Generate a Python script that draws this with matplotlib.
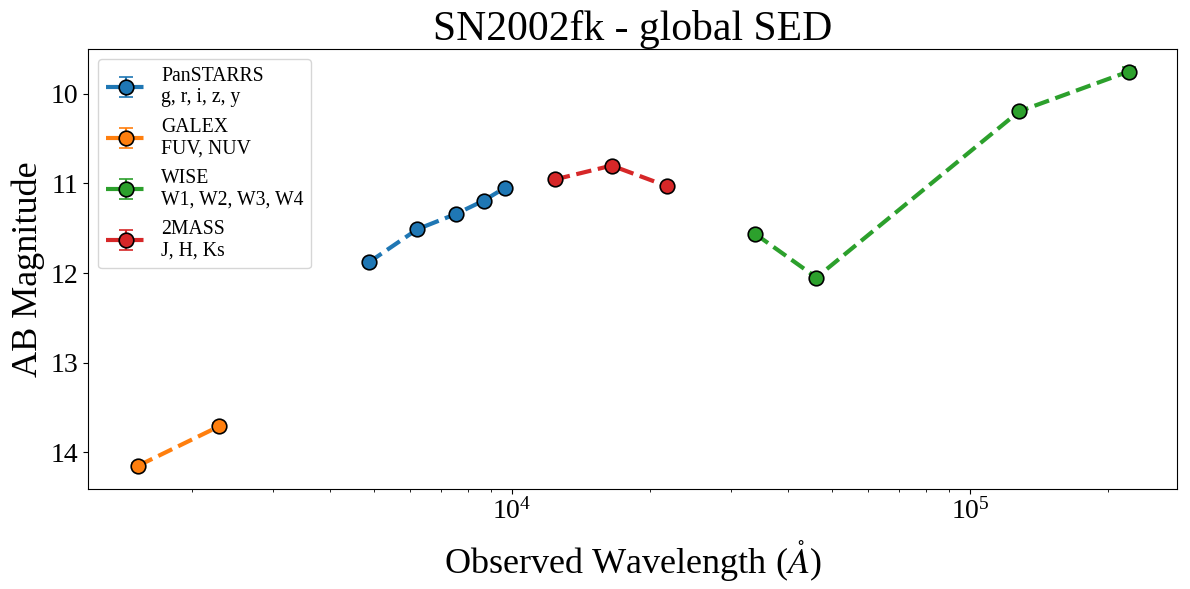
import matplotlib
matplotlib.use("Agg")
import matplotlib.pyplot as plt

plt.rcParams['font.family'] = ['Liberation Serif', 'DejaVu Serif']
plt.rcParams['mathtext.fontset'] = 'stix'

# Data (wavelength in Angstrom, AB magnitude)
ps_wave = [4866, 6215, 7545, 8679, 9633]
ps_mag = [11.88, 11.51, 11.34, 11.19, 11.05]
ps_err = [0.02, 0.02, 0.02, 0.02, 0.02]

galex_wave = [1528, 2296]
galex_mag = [14.15, 13.71]
galex_err = [0.03, 0.03]

wise_wave = [34000, 46200, 128000, 222000]
wise_mag = [11.565, 12.05, 10.195, 9.75]
wise_err = [0.02, 0.02, 0.03, 0.05]

tmass_wave = [12400, 16500, 21800]
tmass_mag = [10.955, 10.80, 11.03]
tmass_err = [0.02, 0.02, 0.02]

series = [
    ("PanSTARRS\ng, r, i, z, y", ps_wave, ps_mag, ps_err, "#1f77b4"),
    ("GALEX\nFUV, NUV", galex_wave, galex_mag, galex_err, "#ff7f0e"),
    ("WISE\nW1, W2, W3, W4", wise_wave, wise_mag, wise_err, "#2ca02c"),
    ("2MASS\nJ, H, Ks", tmass_wave, tmass_mag, tmass_err, "#d62728"),
]

fig = plt.figure(figsize=(11.9, 5.89), dpi=100)
ax = fig.add_axes([0.074, 0.170, 0.915, 0.747])

for label, w, m, e, c in series:
    ax.errorbar(w, m, yerr=e, fmt='o--', color=c, lw=3, ms=10.5,
                mec='black', mew=1.2, capsize=5, elinewidth=1.5, label=label)

ax.set_xscale('log')
ax.set_xlim(1186, 283000)
ax.set_ylim(14.41, 9.497)
ax.set_yticks([10, 11, 12, 13, 14])

ax.set_title("SN2002fk - global SED", fontsize=30)
ax.set_xlabel(r"Observed Wavelength ($\mathring{A}$)", fontsize=26, labelpad=10)
ax.set_ylabel("AB Magnitude", fontsize=26)
ax.tick_params(axis='both', which='major', labelsize=20)

ax.legend(loc='upper left', fontsize=14.2, labelspacing=0.52)

fig.savefig("out.png", dpi=100)
